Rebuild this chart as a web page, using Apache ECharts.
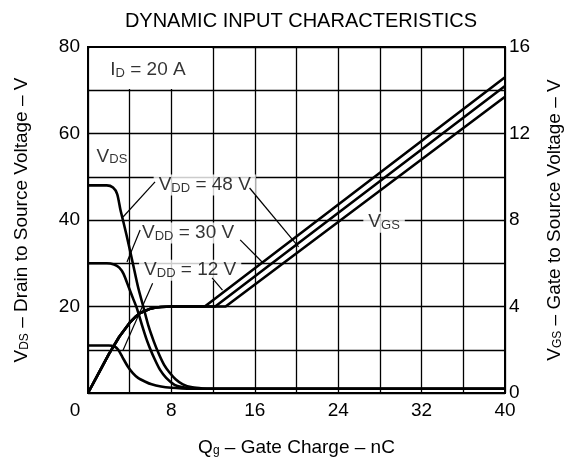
<!DOCTYPE html>
<html>
<head>
<meta charset="utf-8">
<script src="https://cdn.jsdelivr.net/npm/echarts@6/dist/echarts.min.js"></script>
<style>html,body{margin:0;padding:0;background:#fff;}#c{width:573px;height:462px;}</style>
</head>
<body>
<div id="c"></div>
<script>
// ---- data (Qg in nC, VDS in V on left axis, VGS in V on right axis) ----
const xTicks = [0, 8, 16, 24, 32, 40];
const leftTicks = [0, 20, 40, 60, 80];
const rightTicks = [0, 4, 8, 12, 16];

const vds48 = [[0,48],[1.8,48],[2.4,47.5],[2.8,46],[3.1,42.5],[3.5,38.5],[3.84,35],[4.3,30],[4.8,24.5],[5.3,20],[5.8,15.5],[6.3,12],[6.8,9],[7.3,6.5],[7.8,4.8],[8.4,3.2],[9.1,2],[10,1.3],[11,1.05],[12,1],[40,1]];
const vds30 = [[0,30],[1.8,30],[2.5,29.7],[3.0,29],[3.4,27.6],[3.9,24.5],[4.3,22],[4.7,19.5],[5.2,15.5],[5.6,12.5],[5.9,10.6],[6.4,7.8],[6.9,5.4],[7.5,3.5],[8.3,1.9],[9,1.4],[10,1.1],[11,1],[40,1]];
const vds12 = [[0,11],[2,11],[2.5,10.8],[2.9,10],[3.3,8.3],[3.8,6.2],[4.3,4.6],[4.8,3.5],[5.5,2.6],[6.1,2],[7,1.5],[8,1.2],[9,1.05],[10,1],[40,1]];

const vgsRise = [[0,0],[1,0.9],[2,1.8],[3,2.6],[4,3.25],[4.5,3.5],[5,3.7],[5.5,3.8],[6,3.9],[6.5,3.95],[7,3.98],[8,4]];
const vgs12 = vgsRise.concat([[11.2,4],[40,14.6]]);
const vgs30 = vgsRise.concat([[12.2,4],[40,14.2]]);
const vgs48 = vgsRise.concat([[13.2,4],[40,13.7]]);

// annotation texts [Q, VDS-scale value, text, white background]
const notes = [
  [5.75, 74.7, '{m|I}{s|D}{m| = 20 A}', false],
  [2.3, 54.6, '{m|V}{s|DS}', false],
  [11.2, 48.1, '{m|V}{s|DD}{m| = 48 V}', true],
  [9.6, 37.0, '{m|V}{s|DD}{m| = 30 V}', true],
  [9.8, 28.4, '{m|V}{s|DD}{m| = 12 V}', true],
  [28.4, 39.5, '{m|V}{s|GS}', true]
];
// arrows [fromQ, fromV, toQ, toV] in VDS-scale units
const arrows = [
  [6.43, 48.8, 3.36, 40.7],
  [15.5, 47.4, 20.2, 33.8],
  [5.0, 37.7, 3.74, 30.3],
  [14.6, 35.4, 16.7, 30.3],
  [6.2, 25.4, 3.36, 9.9],
  [11.9, 26.6, 12.9, 23.8]
];

const FONT = 'Liberation Sans, Arial, Helvetica, sans-serif';
const rich = {
  m: {fontSize: 19, fontFamily: FONT, color: '#000'},
  s: {fontSize: 13, fontFamily: FONT, color: '#000', verticalAlign: 'bottom', padding: [5, 0, 0, 0]}
};
const nameRich = {
  m: {fontSize: 19, fontFamily: FONT, color: '#000'},
  s: {fontSize: 12, fontFamily: FONT, color: '#000', verticalAlign: 'bottom', padding: [6, 0, 0, 0]}
};

const curve = (name, data, yIdx, smooth) => ({
  name, type: 'line', data, yAxisIndex: yIdx, smooth: smooth, showSymbol: false, symbol: 'none',
  lineStyle: {color: '#000', width: 2.6}, z: 5
});

const chart = echarts.init(document.getElementById('c'), null, {renderer: 'canvas'});
chart.setOption({
  animation: false,
  backgroundColor: '#fff',
  title: {
    text: 'DYNAMIC INPUT CHARACTERISTICS', left: 296, top: 6, textAlign: 'center',
    textStyle: {fontSize: 20, fontWeight: 'normal', color: '#000', fontFamily: FONT}
  },
  grid: {left: 88, right: 68, top: 47, bottom: 69, show: true, borderColor: '#000', borderWidth: 2, backgroundColor: 'transparent'},
  xAxis: {
    type: 'value', min: 0, max: 40, interval: 4,
    name: '{m|Q}{s|g}{m| – Gate Charge – nC}', nameLocation: 'middle', nameGap: 45,
    nameTextStyle: {rich: nameRich},
    axisLine: {show: true, lineStyle: {color: '#000', width: 2}},
    axisTick: {show: false},
    splitLine: {show: true, lineStyle: {color: '#000', width: 1.3}},
    axisLabel: {
      margin: 8, color: '#000', fontSize: 19, fontFamily: FONT,
      formatter: v => xTicks.indexOf(v) < 0 ? '' : (v === 0 ? '{z|0}' : String(v)),
      rich: {z: {fontSize: 19, fontFamily: FONT, color: '#000', padding: [0, 26, 0, 0]}}
    }
  },
  yAxis: [{
    type: 'value', min: 0, max: 80, interval: 10, position: 'left',
    name: '{m|V}{s|DS}{m| – Drain to Source Voltage – V}', nameLocation: 'middle', nameGap: 57, nameRotate: 90,
    nameTextStyle: {rich: nameRich},
    axisLine: {show: true, lineStyle: {color: '#000', width: 2}},
    axisTick: {show: false},
    splitLine: {show: true, lineStyle: {color: '#000', width: 1.3}},
    axisLabel: {margin: 8, color: '#000', fontSize: 19, fontFamily: FONT,
      formatter: v => (v !== 0 && leftTicks.indexOf(v) >= 0) ? String(v) : ''}
  }, {
    type: 'value', min: 0, max: 16, interval: 2, position: 'right',
    name: '{m|V}{s|GS}{m| – Gate to Source Voltage – V}', nameLocation: 'middle', nameGap: 40, nameRotate: 90,
    nameTextStyle: {rich: nameRich},
    axisLine: {show: true, lineStyle: {color: '#000', width: 2}},
    axisTick: {show: false},
    splitLine: {show: false},
    axisLabel: {margin: 4, color: '#000', fontSize: 19, fontFamily: FONT,
      formatter: v => rightTicks.indexOf(v) >= 0 ? String(v) : ''}
  }],
  series: [
    {
      name: 'notes', type: 'scatter', yAxisIndex: 0, symbolSize: 0, z: 3, silent: true,
      data: notes.map(n => ({
        value: [n[0], n[1]],
        label: {show: true, position: 'inside', formatter: n[2], rich: rich,
          backgroundColor: n[3] ? '#fff' : 'transparent', padding: n[3] ? [1, 5, 1, 5] : 0}
      })),
      markArea: {
        silent: true, itemStyle: {color: '#fff'},
        data: [[{coord: [0.15, 70.3]}, {coord: [11.9, 79.75]}]]
      },
      markLine: {
        silent: true, symbol: ['none', 'arrow'], symbolSize: [0, 9],
        lineStyle: {color: '#000', width: 1.2, type: 'solid'},
        label: {show: false},
        data: arrows.map(a => [{coord: [a[0], a[1]]}, {coord: [a[2], a[3]]}])
      }
    },
    curve('VDS 48', vds48, 0, 0.25),
    curve('VDS 30', vds30, 0, 0.25),
    curve('VDS 12', vds12, 0, 0.25),
    curve('VGS 12', vgs12, 1, false),
    curve('VGS 30', vgs30, 1, false),
    curve('VGS 48', vgs48, 1, false)
  ]
});
</script>
</body>
</html>
